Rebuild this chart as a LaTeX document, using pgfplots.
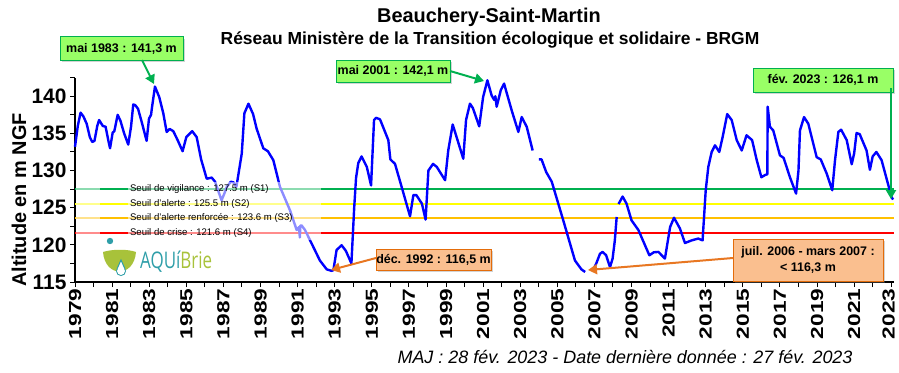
\documentclass[border=0pt]{standalone}
\usepackage{pgfplots}
\pgfplotsset{compat=1.18}
\usepackage{fontspec}
\setmainfont{Liberation Sans}
\newfontfamily\logofont{Open Sans}
\usetikzlibrary{arrows.meta,shadows}
\definecolor{sgreen}{RGB}{0,176,80}
\definecolor{syellow}{RGB}{255,255,0}
\definecolor{sorange}{RGB}{255,192,0}
\definecolor{sred}{RGB}{255,0,0}
\definecolor{boxgreen}{RGB}{153,255,102}
\definecolor{boxgreenb}{RGB}{0,176,80}
\definecolor{boxorange}{RGB}{250,191,143}
\definecolor{boxoranged}{RGB}{228,108,10}
\definecolor{arroworange}{RGB}{232,119,34}
\definecolor{logoteal}{RGB}{46,158,168}
\definecolor{logolime}{RGB}{168,194,58}
\begin{document}
\begin{tikzpicture}[x=1bp,y=1bp,
  gbox/.style={draw=boxgreenb,line width=1bp,fill=boxgreen,inner sep=0pt,font=\fontsize{12.5}{14}\selectfont\bfseries,drop shadow={shadow xshift=2bp,shadow yshift=-2bp,opacity=0.35}},
  obox/.style={draw=boxoranged,line width=1bp,fill=boxorange,inner sep=0pt,font=\fontsize{12.5}{16}\selectfont\bfseries,align=center,drop shadow={shadow xshift=2bp,shadow yshift=-2bp,opacity=0.35}},
  garrow/.style={draw=boxgreenb,line width=2bp,-{Triangle[length=9bp,width=10bp]}},
  oarrow/.style={draw=arroworange,line width=2bp,-{Triangle[length=9bp,width=10bp]}}]
\useasboundingbox (0,0) rectangle (899,372);
\begin{axis}[at={(75bp,90bp)},anchor=south west,scale only axis,
  width=819bp,height=204.3bp,
  xmin=1979,xmax=2023.15,ymin=115,ymax=142.5,
  axis x line*=bottom,axis y line*=left,
  axis line style={-,line width=1.6bp,black},
  xtick={1979,1981,...,2021},minor xtick={1980,1982,...,2022},
  extra x ticks={2023},
  extra x tick style={xticklabel style={yshift=2.5bp}},
  ytick={115,120,...,140},minor ytick={117.5,122.5,...,142.5},
  tick align=outside,major tick length=5bp,minor tick length=5bp,
  tick style={black,line width=1bp},
  /pgf/number format/assume math mode=true,
  /pgf/number format/set thousands separator={},
  xticklabel={\scalebox{1.3}[1]{\pgfmathprintnumber{\tick}}},
  xticklabel style={rotate=90,anchor=east,inner sep=1.5pt,font=\fontsize{17.5}{18}\selectfont\bfseries},
  yticklabel style={font=\fontsize{21}{22}\selectfont\bfseries,xshift=0bp},
  unbounded coords=jump,
  clip=false]
\addplot[sgreen,line width=2bp,forget plot] coordinates {(1979,127.5) (2023.15,127.5)};
\addplot[syellow,line width=2bp,forget plot] coordinates {(1979,125.5) (2023.15,125.5)};
\addplot[sorange,line width=2bp,forget plot] coordinates {(1979,123.6) (2023.15,123.6)};
\addplot[sred,line width=2bp,forget plot] coordinates {(1979,121.6) (2023.15,121.6)};
\addplot[blue,line width=2.4bp,line join=round,mark=none] coordinates {
(1979.00,133.2) (1979.15,136.0) (1979.30,137.8) (1979.45,137.3) (1979.63,136.3) (1979.80,134.5)
(1979.93,133.85) (1980.05,134.0) (1980.20,136.0) (1980.30,136.8) (1980.50,136.0) (1980.65,135.9)
(1980.80,134.0) (1980.89,133.0) (1981.03,135.1) (1981.12,135.3) (1981.30,137.5) (1981.45,136.7)
(1981.65,135.0) (1981.87,133.5) (1982.02,135.9) (1982.14,138.9) (1982.25,138.8) (1982.40,138.3)
(1982.60,136.5) (1982.86,134.0) (1982.99,137.0) (1983.10,137.5) (1983.15,138.5) (1983.31,141.3)
(1983.54,139.9) (1983.76,137.7) (1983.94,135.2) (1984.10,135.6) (1984.30,135.3) (1984.55,134.0)
(1984.80,132.6) (1985.00,134.5) (1985.32,135.3) (1985.56,134.5) (1985.80,131.5) (1986.10,128.9)
(1986.37,129.05) (1986.55,128.5) (1986.90,126.0) (1987.05,126.9) (1987.18,127.8) (1987.40,128.5)
(1987.55,128.4) (1987.70,127.8) (1987.99,132.3) (1988.13,137.7) (1988.35,139.0) (1988.60,137.6)
(1988.79,135.65) (1989.15,133.0) (1989.40,132.6) (1989.69,131.4) (1990.05,127.8) (1990.59,124.65)
(1990.95,122.0) (1991.08,122.4) (1991.12,121.0) (1991.15,122.6) (1991.22,122.6) (1991.40,122.0)
(1991.85,119.7) (1992.20,117.9) (1992.57,116.7) (1992.83,116.5) (1992.93,116.6) (1993.10,119.3)
(1993.37,119.95) (1993.60,119.2) (1993.90,117.5) (1994.05,125.0) (1994.15,129.0) (1994.27,131.0)
(1994.45,131.9) (1994.73,130.5) (1994.96,128.0) (1995.12,136.8) (1995.23,137.1) (1995.44,136.9)
(1995.89,134.1) (1996.00,131.5) (1996.25,130.9) (1996.66,127.35) (1997.06,123.85) (1997.24,126.7)
(1997.40,126.7) (1997.70,125.55) (1997.90,123.4) (1998.05,130.0) (1998.30,130.9) (1998.50,130.5)
(1998.95,128.7) (1999.12,132.7) (1999.36,136.2) (1999.54,134.75) (1999.93,131.6) (2000.08,136.8)
(2000.29,139.0) (2000.45,138.4) (2000.79,135.95) (2001.00,139.9) (2001.23,142.15) (2001.46,140.1)
(2001.60,139.5) (2001.66,140.0) (2001.73,138.6) (2001.95,140.8) (2002.13,141.7) (2002.54,138.1)
(2002.90,135.2) (2003.08,137.2) (2003.35,135.9) (2003.67,132.7) (2003.80,nan) (2004.00,131.5)
(2004.15,131.5) (2004.40,129.8) (2004.70,128.5) (2005.32,123.3) (2005.95,117.9) (2006.30,116.7)
(2006.50,116.35) (2006.80,nan) (2007.00,117.0) (2007.10,117.5) (2007.30,118.8) (2007.44,119.05)
(2007.63,118.6) (2007.84,117.0) (2007.98,118.15) (2008.10,120.6) (2008.20,123.75) (2008.25,nan)
(2008.30,125.5) (2008.52,126.5) (2008.73,125.55) (2009.00,123.3) (2009.37,122.0) (2009.96,118.6)
(2010.20,119.0) (2010.45,119.05) (2010.80,118.15) (2011.08,122.4) (2011.29,123.65) (2011.61,122.2)
(2011.88,120.25) (2012.24,120.6) (2012.60,120.85) (2012.83,120.6) (2013.00,127.35) (2013.14,130.5)
(2013.32,132.5) (2013.50,133.4) (2013.73,132.5) (2013.91,134.5) (2014.16,137.6) (2014.40,136.8)
(2014.67,134.1) (2014.94,132.7) (2015.20,134.75) (2015.50,134.1) (2015.75,131.4) (2016.00,129.1)
(2016.20,129.4) (2016.32,129.5) (2016.34,138.6) (2016.46,135.9) (2016.64,135.4) (2017.00,132.05)
(2017.20,131.7) (2017.54,129.1) (2017.87,126.9) (2018.00,130.0) (2018.08,135.4) (2018.30,137.2)
(2018.53,136.3) (2018.98,131.8) (2019.20,131.5) (2019.52,129.6) (2019.82,127.35) (2019.97,131.4)
(2020.15,135.2) (2020.30,135.5) (2020.60,134.1) (2020.87,130.85) (2021.00,132.3) (2021.13,135.05)
(2021.30,134.9) (2021.67,132.7) (2021.85,130.1) (2022.00,131.9) (2022.20,132.5) (2022.48,131.4)
(2022.75,128.9) (2023.02,126.4) (2023.10,126.1)};
% semi-transparent legend box
\fill[white,opacity=0.55] (axis cs:1979.05,120.7) rectangle (axis cs:1992.25,128.4);
\draw[sgreen,line width=2bp] (axis cs:1980.35,127.5) -- (axis cs:1981.86,127.5);
\draw[syellow,line width=2bp] (axis cs:1980.35,125.5) -- (axis cs:1981.86,125.5);
\draw[sorange,line width=2bp] (axis cs:1980.35,123.6) -- (axis cs:1981.86,123.6);
\draw[sred,line width=2bp] (axis cs:1980.35,121.6) -- (axis cs:1981.86,121.6);
\begin{scope}[every node/.style={anchor=west,inner sep=0pt,font=\fontsize{9.6}{10}\selectfont}]
\node at (axis cs:1981.96,127.5) {Seuil de vigilance : 127.5 m (S1)};
\node at (axis cs:1981.96,125.5) {Seuil d'alerte : 125.5 m (S2)};
\node at (axis cs:1981.96,123.6) {Seuil d'alerte renforcée : 123.6 m (S3)};
\node at (axis cs:1981.96,121.6) {Seuil de crise : 121.6 m (S4)};
\end{scope}
\end{axis}
% titles
\node at (489,355) {\fontsize{20}{24}\selectfont\bfseries Beauchery-Saint-Martin};
\node at (490,332) {\fontsize{17.5}{20}\selectfont\bfseries Réseau Ministère de la Transition écologique et solidaire - BRGM};
\node[rotate=90] at (19,172) {\fontsize{20}{22}\selectfont\bfseries Altitude en m NGF};
\node[anchor=east] at (856,15) {\fontsize{18}{20}\selectfont\itshape MAJ : 28 fév. 2023 - Date dernière donnée : 27 fév. 2023};
% annotations
\node[gbox,minimum width=123bp,minimum height=23bp] at (121.5,323.5) {mai 1983 : 141,3 m};
\draw[garrow] (142,312) -- (154,288);
\node[gbox,minimum width=114bp,minimum height=22bp] at (393,301) {mai 2001 : 142,1 m};
\draw[garrow] (450,301) -- (484,291);
\node[gbox,minimum width=140bp,minimum height=24bp] at (823,292) {fév. 2023 : 126,1 m};
\draw[garrow] (891,284) -- (891,173);
\draw[oarrow] (376,114) -- (331,102);
\node[obox,minimum width=115bp,minimum height=21bp] at (433.5,112.5) {déc. 1992 : 116,5 m};
\draw[oarrow] (733,114) -- (588,102);
\node[obox,minimum width=150bp,minimum height=42bp] at (808,112) {juil. 2006 - mars 2007 :\\ < 116,3 m};
% logo
\fill[logoteal] (110,131) circle (3.2);
\fill[logolime] (103,120) .. controls (112,123) and (128,123) .. (136,120) .. controls (134,94) and (105,94) .. (103,120) -- cycle;
\draw[logoteal,fill=white,line width=1bp] (121,101) circle (4.5);
\draw[logoteal,fill=white,line width=1bp] (117.2,103.4) -- (121,112) -- (124.8,103.4);
\fill[white] (121,101) circle (3.8);
\node[anchor=west,inner sep=0pt] at (140,110) {\scalebox{0.74}[1]{\logofont\fontsize{23}{24}\selectfont\textcolor{logoteal}{AQUí}\textcolor{logolime}{Brie}}};
\end{tikzpicture}
\end{document}
